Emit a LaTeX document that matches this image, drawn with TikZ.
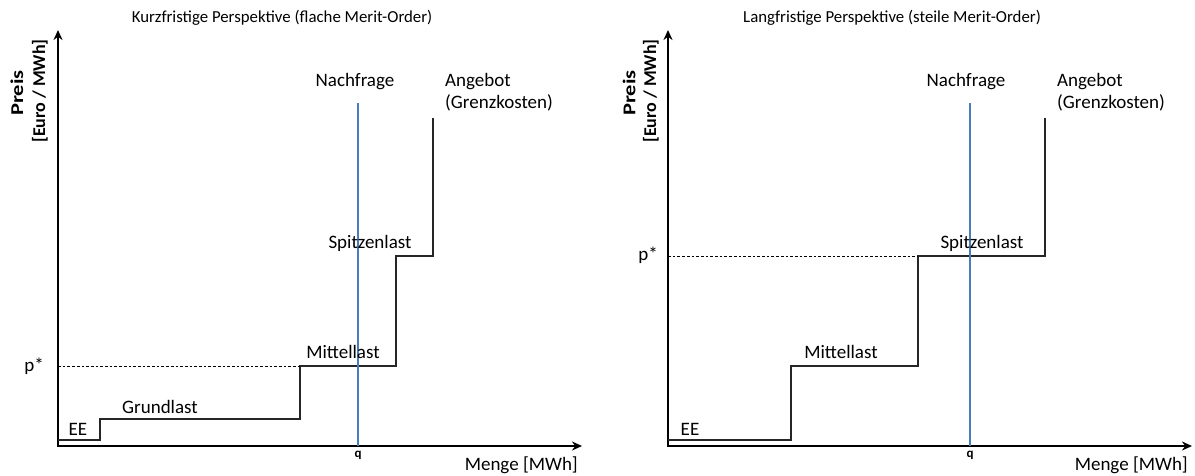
\documentclass[tikz,border=0pt]{standalone}
\usepackage{fontspec}
\setmainfont{Carlito}
\usetikzlibrary{arrows.meta}
\definecolor{demandblue}{RGB}{74,126,187}
\begin{document}
\begin{tikzpicture}[x=1pt,y=-1pt,
  axis/.style={line width=2.8pt,{Stealth[length=10pt,width=9pt]}-{Stealth[length=10pt,width=9pt]}},
  supply/.style={line width=1.7pt,black!85},
  demand/.style={line width=1.4pt,demandblue},
  guide/.style={line width=0.9pt,dash pattern=on 2.7pt off 2pt},
  lbl/.style={font=\fontsize{19}{22}\selectfont,inner sep=0pt,anchor=base},
  ttl/.style={font=\fontsize{16.8}{19}\selectfont,inner sep=0pt,anchor=base},
  ylbl/.style={font=\fontsize{18}{20}\selectfont\bfseries,rotate=90,inner sep=0pt},
  qlbl/.style={font=\fontsize{13}{14}\selectfont\bfseries,inner sep=0pt,anchor=base}]
\useasboundingbox (0,0) rectangle (1195,476);

% ---------- short-term perspective ----------
\node[ttl] (t1) at (282,23) {Kurzfristige Perspektive (flache Merit-Order)};
\coordinate (a1top) at (58,30);
\coordinate (a1o) at (58,446);
\coordinate (a1right) at (582,446);
\draw[axis] (a1top) -- (a1o) -- (a1right);
\node[ylbl] (y1a) at (17,93) {\scalebox{1.25}[1]{Preis}};
\node[ylbl] (y1b) at (40,91) {[Euro / MWh]};
\node[lbl,anchor=base east] (x1) at (578,470) {Menge [MWh]};

\coordinate (s1a) at (58,440);
\coordinate (s1b) at (100,419);
\coordinate (s1c) at (300,366);
\coordinate (s1d) at (396,256);
\coordinate (s1e) at (433,118);
\draw[supply] (s1a) -| (s1b) -| (s1c) -| (s1d) -| (s1e);

\coordinate (p1l) at (58,366);
\draw[guide] (p1l) -- (s1c);
\node[lbl] (p1) at (34,371) {p*};

\coordinate (d1top) at (358,103);
\coordinate (d1bot) at (358,446);
\draw[demand] (d1top) -- (d1bot);
\node[qlbl] (q1) at (358,457) {q};

\node[lbl] (n1) at (355,87) {Nachfrage};
\node[lbl,anchor=base west] (ang1a) at (445,87) {Angebot};
\node[lbl,anchor=base west] (ang1b) at (445,109) {(Grenzkosten)};
\node[lbl] (ee1) at (78,435) {EE};
\node[lbl] (g1) at (160,413) {Grundlast};
\node[lbl] (m1) at (343,358) {Mittellast};
\node[lbl] (sp1) at (370,248) {Spitzenlast};

% ---------- long-term perspective ----------
\node[ttl] (t2) at (892,23) {Langfristige Perspektive (steile Merit-Order)};
\coordinate (a2top) at (668,30);
\coordinate (a2o) at (668,446);
\coordinate (a2right) at (1192,446);
\draw[axis] (a2top) -- (a2o) -- (a2right);
\node[ylbl] (y2a) at (629,93) {\scalebox{1.25}[1]{Preis}};
\node[ylbl] (y2b) at (651,91) {[Euro / MWh]};
\node[lbl,anchor=base east] (x2) at (1188,470) {Menge [MWh]};

\coordinate (s2a) at (668,440);
\coordinate (s2b) at (791,366);
\coordinate (s2c) at (918,256);
\coordinate (s2d) at (1045,118);
\draw[supply] (s2a) -| (s2b) -| (s2c) -| (s2d);

\coordinate (p2l) at (668,256);
\draw[guide] (p2l) -- (s2c);
\node[lbl] (p2) at (648,260) {p*};

\coordinate (d2top) at (970,103);
\coordinate (d2bot) at (970,446);
\draw[demand] (d2top) -- (d2bot);
\node[qlbl] (q2) at (970,457) {q};

\node[lbl] (n2) at (966,87) {Nachfrage};
\node[lbl,anchor=base west] (ang2a) at (1057,87) {Angebot};
\node[lbl,anchor=base west] (ang2b) at (1057,109) {(Grenzkosten)};
\node[lbl] (ee2) at (690,435) {EE};
\node[lbl] (m2) at (841,358) {Mittellast};
\node[lbl] (sp2) at (982,248) {Spitzenlast};
\end{tikzpicture}
\end{document}
